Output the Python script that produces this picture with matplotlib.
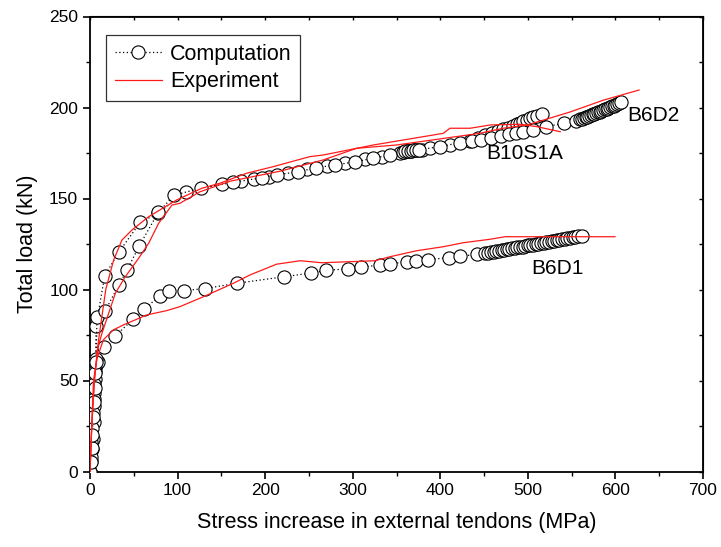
import matplotlib
matplotlib.use("Agg")
import matplotlib.pyplot as plt
from matplotlib.ticker import MultipleLocator

plt.rcParams['font.family'] = ['Liberation Sans', 'DejaVu Sans']

# ---- computed load vs. tendon stress increase ----
b6d1_comp_x = [0, 1.5, 2.5, 3, 4, 4.5, 5, 6, 7, 9, 16, 28.5, 49.5, 62, 80, 90, 107, 131,
               167.5, 221.5, 252, 269.5, 295, 309.5, 331, 342.5, 361.6, 372, 386, 410,
               422.5, 441.5, 451, 455, 458, 461, 464, 467, 470, 473, 476, 479, 482, 485,
               488, 491, 494, 497, 500, 503, 506, 509, 512, 515, 518, 521, 524, 527, 530,
               533, 536, 539, 542, 545, 548, 551, 554, 557, 561.5]
b6d1_comp_y = [0, 6, 12.4, 17.7, 27.4, 36, 43, 51, 58.5, 60, 68.2, 74.3, 83.8, 89.3, 96.6,
               99.2, 99.4, 100.5, 103.4, 107, 109, 110.5, 111.4, 112.2, 113.5, 114.2, 115.1,
               115.8, 116.4, 117.5, 118.2, 119.3, 119.9, 120.2, 120.5, 120.7, 121, 121.3,
               121.5, 121.8, 122.1, 122.3, 122.6, 122.8, 123.1, 123.4, 123.6, 123.9, 124.2,
               124.4, 124.7, 125, 125.2, 125.5, 125.8, 126, 126.3, 126.5, 126.8, 127.1,
               127.3, 127.6, 127.9, 128.1, 128.4, 128.7, 128.9, 129.2, 129.6]

b10s1a_comp_x = [0, 1, 1.5, 2.5, 3, 4, 5, 5.5, 6.5, 6.9, 16.7, 32.7, 57.4, 77.6, 109.6,
                 150.4, 172.4, 187.3, 204.8, 226.5, 247.4, 270.3, 291.2, 314, 333.1, 354,
                 358, 361, 364, 367, 370, 374, 378.7, 388.2, 411, 434, 443.4, 451, 458.6,
                 466.2, 471.9, 477.6, 483.3, 487.1, 490.9, 494.7, 498.5, 502.3, 506.1,
                 509.9, 515.6]
b10s1a_comp_y = [0, 8, 16, 24, 32, 40, 48, 55, 62, 80, 107.4, 120.4, 136.9, 141.9, 153.8,
                 158, 159.6, 160.6, 162, 163.9, 166.1, 167.9, 169.4, 171.6, 173, 174.8,
                 175.8, 176, 176.2, 176.3, 176.5, 176.7, 176.9, 177.6, 179.4, 181.8, 183.1,
                 184.9, 185.8, 187.1, 188, 188.9, 190, 190.8, 191.7, 192.6, 193.3, 194.1,
                 194.8, 195.5, 196.3]

b6d2_comp_x = [0, 1, 2, 2.5, 3.5, 4.5, 5.5, 6, 7, 8, 17.5, 32.7, 42.3, 56.3, 78, 96.3,
               126.4, 163.7, 196, 213, 237.9, 258.1, 279.8, 302.6, 323.5, 342.6, 357.5,
               360, 363, 366, 369, 372, 376, 399.7, 422.5, 436, 447, 458, 469, 478, 487,
               494, 506, 520.7, 541.6, 555, 559.5, 562, 564, 566, 568, 570, 572, 574, 576,
               578, 580, 582, 584, 586, 588, 590, 592, 594, 596, 598, 600, 602, 604, 606]
b6d2_comp_y = [0, 5, 13, 20, 30, 38, 46, 54, 60, 85, 88.4, 102.3, 110.7, 124, 142.4, 151.9,
               155.6, 158.9, 161.4, 163, 164.7, 166.9, 168.4, 170.2, 172.1, 173.9, 175.6,
               175.9, 176.1, 176.2, 176.4, 176.6, 176.8, 178.5, 180.7, 181.5, 182.4, 183.3,
               184.4, 185.3, 186.2, 186.8, 187.6, 189.5, 191.3, 192.8, 193.5, 193.9, 194.3,
               194.6, 195, 195.4, 195.8, 196.2, 196.6, 197, 197.4, 197.8, 198.2, 198.6, 199,
               199.4, 199.8, 200.2, 200.6, 201, 201.4, 201.9, 202.4, 203]

# ---- measured load vs. tendon stress increase ----
b6d1_exp_x = [0, 2, 4, 8, 15.2, 26.6, 38, 64.7, 87.6, 102.8, 129.4, 163.6, 182.7, 213, 240,
              264.6, 325.4, 342.6, 373, 403.4, 426.3, 456.8, 474, 599.5]
b6d1_exp_y = [0, 25, 50, 62, 72.3, 77.8, 80.5, 86, 88.4, 90.6, 96, 103.4, 108, 113.9, 115.8,
              114.7, 115.8, 118, 121.3, 123.5, 125.7, 127.6, 129, 129]

b10s1a_exp_x = [0, 2, 5, 8, 10, 18, 27, 36.5, 48, 67, 86, 99, 127.5, 148.4, 179, 209.3, 251,
                266.4, 323.5, 403.4, 411, 434, 457, 491, 510, 537]
b10s1a_exp_y = [0, 25, 50, 65, 73, 100, 116.2, 127.2, 132.7, 140, 145.5, 149.2, 155.6, 158.4,
                163.9, 167.5, 173, 173.9, 179.4, 185.8, 188.6, 188.6, 190.4, 190.8, 189.5,
                186.7]

b6d2_exp_x = [0, 2, 5, 9, 13.7, 29, 40.3, 55.6, 67, 78.4, 93.6, 102.8, 125.6, 160, 217,
              266.4, 304.5, 350, 445, 472, 500, 548, 586, 627]
b6d2_exp_y = [0, 25, 50, 68, 76, 98, 107, 117.2, 125.4, 136.4, 146.4, 147.4, 153.7, 159.5,
              165, 171.2, 177.6, 179.4, 185.8, 188.6, 190.5, 197.5, 204, 209.6]

beam_labels = ["B6D2", "B10S1A", "B6D1"]
label_x = [614, 453, 504]
label_y = [195.6, 174.5, 111.3]

fig = plt.figure(figsize=(7.21, 5.47), dpi=100)
ax = fig.add_axes([90 / 721, 1 - 471.5 / 547, 613 / 721, 455 / 547])

comp_style = dict(color="black", linestyle=(0, (1, 2)), linewidth=0.9, marker="o",
                  markersize=9.5, markerfacecolor="white", markeredgecolor="black",
                  markeredgewidth=0.8)
exp_style = dict(color="#ff1a1a", linewidth=0.9)

ax.plot(b6d1_comp_x, b6d1_comp_y, **comp_style, zorder=3, label="Computation")
ax.plot(b10s1a_comp_x, b10s1a_comp_y, **comp_style, zorder=3)
ax.plot(b6d2_comp_x, b6d2_comp_y, **comp_style, zorder=3)

# experiment curves drawn over the markers
ax.plot(b6d1_exp_x, b6d1_exp_y, **exp_style, zorder=4, label="Experiment")
ax.plot(b10s1a_exp_x, b10s1a_exp_y, **exp_style, zorder=4)
ax.plot(b6d2_exp_x, b6d2_exp_y, **exp_style, zorder=4)

for t, x, y in zip(beam_labels, label_x, label_y):
    ax.text(x, y, t, fontsize=15, ha="left", va="center")

ax.set_xlim(0, 700)
ax.set_ylim(0, 250)
ax.xaxis.set_major_locator(MultipleLocator(100))
ax.xaxis.set_minor_locator(MultipleLocator(50))
ax.yaxis.set_major_locator(MultipleLocator(50))
ax.yaxis.set_minor_locator(MultipleLocator(25))
ax.tick_params(which="major", direction="out", length=5, width=1.2, labelsize=12.5)
ax.tick_params(which="minor", direction="out", length=3, width=1.0)
for s in ax.spines.values():
    s.set_linewidth(1.3)

top = ax.secondary_xaxis("top")
top.xaxis.set_major_locator(MultipleLocator(50))
top.tick_params(direction="in", length=3, width=1.0, labeltop=False)
right = ax.secondary_yaxis("right")
right.yaxis.set_major_locator(MultipleLocator(25))
right.tick_params(direction="in", length=3, width=1.0, labelright=False)

ax.set_xlabel("Stress increase in external tendons (MPa)", fontsize=15.5, labelpad=10)
ax.set_ylabel("Total load (kN)", fontsize=15.5, labelpad=8)

leg = ax.legend(loc="upper left", bbox_to_anchor=(0.026, 0.959), borderaxespad=0,
                fontsize=15.5, frameon=True, fancybox=False, handlelength=2.2,
                handletextpad=0.38, borderpad=0.4, labelspacing=0.3)
leg.get_frame().set_edgecolor("black")
leg.get_frame().set_linewidth(0.9)

fig.savefig("out.png", dpi=100)
